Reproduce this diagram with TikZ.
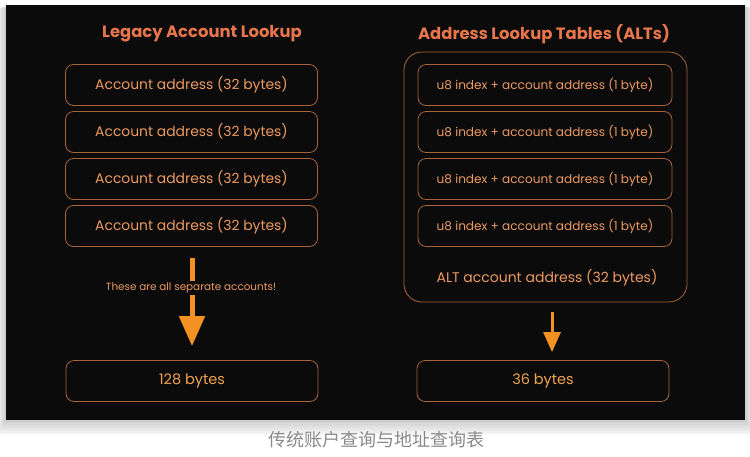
\documentclass[tikz,border=0pt]{standalone}
\usepackage{fontspec}
\setmainfont{Poppins}
\newfontfamily\cjk{Noto Sans CJK SC}
\usetikzlibrary{arrows.meta}
\definecolor{bg}{HTML}{0B0B0B}
\definecolor{titlec}{HTML}{E8764C}
\definecolor{boxtext}{HTML}{EE9A62}
\definecolor{sumtext}{HTML}{F2A352}
\definecolor{boxline}{HTML}{A8653A}
\definecolor{arrowc}{HTML}{F39222}
\definecolor{capc}{HTML}{8A8A8A}
\begin{document}
\begin{tikzpicture}[x=1pt,y=-1pt,
  titlestyle/.style={text=titlec,font=\fontsize{16.4}{20}\selectfont\bfseries},
  itembox/.style={draw=boxline,line width=0.8pt,rounded corners=8pt,minimum width=252pt,minimum height=41pt,text=boxtext,font=\fontsize{13.9}{16}\selectfont},
  altbox/.style={itembox,minimum width=254pt,font=\fontsize{12.1}{14}\selectfont},
  sumbox/.style={itembox,text=sumtext,font=\fontsize{14.5}{16}\selectfont},
  outerbox/.style={draw=boxline,line width=0.8pt,rounded corners=18pt,minimum width=283pt,minimum height=250pt},
  bigarrow/.style={draw=arrowc,line width=5pt,-{Triangle[width=25pt,length=30pt]}},
  smallarrow/.style={draw=arrowc,line width=3pt,-{Triangle[width=17pt,length=20pt]}},
  note/.style={fill=bg,text=boxtext,inner sep=1.5pt,font=\fontsize{10.4}{12}\selectfont}
]
\useasboundingbox (0,0) rectangle (750,456);
\fill[white] (0,0) rectangle (750,456);
\foreach \i in {1,...,10}{
  \fill[black,opacity=0.018] (6-\i,5+0.3*\i) rectangle (745+\i,420+1.6*\i);
}
\fill[bg] (6,5) rectangle (745,420);

\node[titlestyle] (lt) at (202,34) {Legacy Account Lookup};
\node[titlestyle] (rt) at (544,34) {Address Lookup Tables (ALTs)};

\node[itembox] (a1) at (191.5,85) {Account address (32 bytes)};
\node[itembox] (a2) at (191.5,132) {Account address (32 bytes)};
\node[itembox] (a3) at (191.5,179) {Account address (32 bytes)};
\node[itembox] (a4) at (191.5,226) {Account address (32 bytes)};
\node[sumbox] (s1) at (192,381) {128 bytes};

\node[outerbox] (ob) at (545.5,177) {};
\node[altbox] (b1) at (545,85) {u8 index + account address (1 byte)};
\node[altbox] (b2) at (545,132) {u8 index + account address (1 byte)};
\node[altbox] (b3) at (545,179) {u8 index + account address (1 byte)};
\node[altbox] (b4) at (545,226) {u8 index + account address (1 byte)};
\node[text=boxtext,font=\fontsize{14}{16}\selectfont] (alt) at (547,278) {ALT account address (32 bytes)};
\node[sumbox] (s2) at (543,381) {36 bytes};

\draw[bigarrow,shorten <=11pt,shorten >=14pt] (a4.south -| s1.north) -- (s1.north);
\node[note] (nt) at (191,288) {These are all separate accounts!};
\draw[smallarrow,shorten <=10pt,shorten >=8pt] (ob.south -| 552,0) -- (s2.north -| 552,0);

\node[text=capc,font=\cjk\fontsize{18}{20}\selectfont] (cap) at (376,440) {传统账户查询与地址查询表};
\end{tikzpicture}
\end{document}
